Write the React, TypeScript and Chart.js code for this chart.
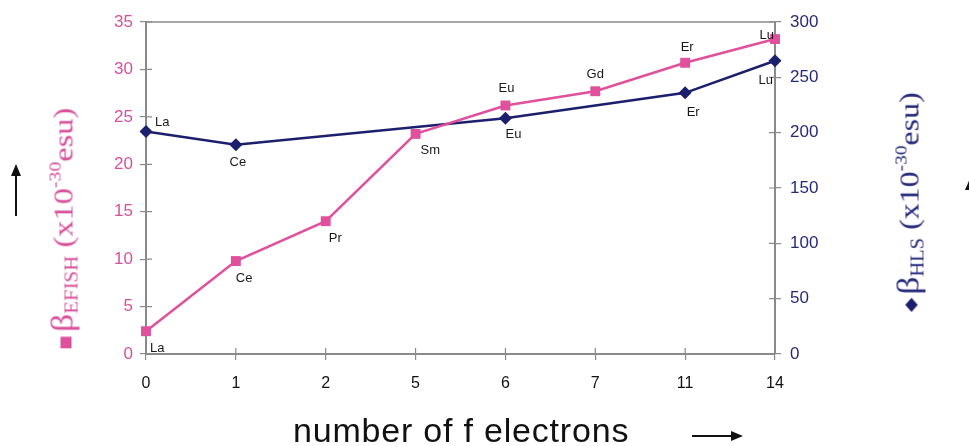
import React, { useEffect, useRef } from "react";
import { Chart, registerables } from "chart.js";

Chart.register(...registerables);

const categories = ["0", "1", "2", "5", "6", "7", "11", "14"];
const efishValues = [2.4, 9.8, 14.0, 23.2, 26.2, 27.7, 30.7, 33.2];
const hlsValues = [201, 189, null, null, 213, null, 236, 265];
const efishNames = ["La", "Ce", "Pr", "Sm", "Eu", "Gd", "Er", "Lu"];
const hlsNames = ["La", "Ce", null, null, "Eu", null, "Er", "Lu"];
const efishTicks = [0, 5, 10, 15, 20, 25, 30, 35];
const hlsTicks = [0, 50, 100, 150, 200, 250, 300];

const PINK = "#e0509c";
const PINK_TEXT = "#d8509a";
const NAVY = "#1c1f6e";
const NAVY_TEXT = "#26297a";
const AXIS = "#8a8a8a";

// label placement: [dx, dy, align]
const efishPlace: [number, number, CanvasTextAlign][] = [
  [4, 17, "left"],
  [0, 17, "left"],
  [3, 17, "left"],
  [5, 16, "left"],
  [1, -17, "center"],
  [0, -17, "center"],
  [2, -15, "center"],
  [-1, -4, "right"],
];
const hlsPlace: [number, number, CanvasTextAlign][] = [
  [9, -9, "left"],
  [2, 18, "center"],
  [0, 0, "left"],
  [0, 0, "left"],
  [8, 16, "center"],
  [0, 0, "left"],
  [8, 20, "center"],
  [-2, 20, "right"],
];

const labelPlugin = {
  id: "pointNames",
  afterDatasetsDraw(chart: any) {
    const ctx = chart.ctx as CanvasRenderingContext2D;
    ctx.save();
    ctx.font = "13px Arial, 'Liberation Sans', sans-serif";
    ctx.fillStyle = "#1a1a1a";
    ctx.textBaseline = "middle";
    const sets: [number, (string | null)[], [number, number, CanvasTextAlign][]][] = [
      [0, efishNames, efishPlace],
      [1, hlsNames, hlsPlace],
    ];
    for (const [di, names, place] of sets) {
      const meta = chart.getDatasetMeta(di);
      meta.data.forEach((pt: any, i: number) => {
        const n = names[i];
        if (!n || pt.skip) return;
        const [dx, dy, al] = place[i];
        ctx.textAlign = al;
        ctx.fillText(n, pt.x + dx, pt.y + dy);
      });
    }
    ctx.restore();
  },
  beforeDatasetsDraw(chart: any) {
    const ctx = chart.ctx as CanvasRenderingContext2D;
    const a = chart.chartArea;
    ctx.save();
    ctx.strokeStyle = AXIS;
    ctx.lineWidth = 1.5;
    ctx.beginPath();
    ctx.moveTo(a.left, a.top);
    ctx.lineTo(a.right, a.top);
    ctx.stroke();
    // inner halves of tick marks
    ctx.lineWidth = 1.2;
    const yl = chart.scales.y;
    const yr = chart.scales.y2;
    const x = chart.scales.x;
    ctx.beginPath();
    yl.ticks.forEach((t: any) => {
      const py = yl.getPixelForValue(t.value);
      ctx.moveTo(a.left, py);
      ctx.lineTo(a.left + 6, py);
    });
    yr.ticks.forEach((t: any) => {
      const py = yr.getPixelForValue(t.value);
      ctx.moveTo(a.right - 6, py);
      ctx.lineTo(a.right, py);
    });
    categories.forEach((_c, i) => {
      const px = x.getPixelForValue(i);
      ctx.moveTo(px, a.bottom - 6);
      ctx.lineTo(px, a.bottom);
    });
    ctx.stroke();
    ctx.restore();
  },
};

export default function App() {
  const ref = useRef<HTMLCanvasElement>(null);
  useEffect(() => {
    if (!ref.current) return;
    const chart = new Chart(ref.current, {
      type: "line",
      data: {
        labels: categories,
        datasets: [
          {
            label: "βEFISH",
            data: efishValues,
            yAxisID: "y",
            borderColor: PINK,
            backgroundColor: PINK,
            borderWidth: 2.5,
            pointStyle: "rect",
            pointRadius: 7,
            pointBorderWidth: 0,
            tension: 0,
          },
          {
            label: "βHLS",
            data: hlsValues,
            yAxisID: "y2",
            borderColor: NAVY,
            backgroundColor: NAVY,
            borderWidth: 2.5,
            pointStyle: "rectRot",
            pointRadius: 6.5,
            pointBorderWidth: 0,
            spanGaps: true,
            tension: 0,
          },
        ],
      },
      options: {
        responsive: false,
        animation: false,
        devicePixelRatio: 1,
        layout: { padding: { top: 22, left: 0, right: 0, bottom: 0 } },
        plugins: { legend: { display: false }, tooltip: { enabled: false } },
        scales: {
          x: {
            type: "category",
            offset: false,
            grid: { display: true, drawOnChartArea: false, tickLength: 6, color: AXIS, lineWidth: 1.2 },
            border: { color: AXIS, width: 2 },
            ticks: {
              color: "#111",
              font: { family: "Arial, 'Liberation Sans', sans-serif", size: 16 },
              padding: 14,
              maxRotation: 0,
            },
            afterFit: (s: any) => {
              s.height = 92;
            },
          },
          y: {
            position: "left",
            min: 0,
            max: 35,
            afterBuildTicks: (s: any) => {
              s.ticks = efishTicks.map((v) => ({ value: v }));
            },
            grid: { display: true, drawOnChartArea: false, tickLength: 6, color: AXIS, lineWidth: 1.2 },
            border: { color: AXIS, width: 2 },
            ticks: {
              color: PINK_TEXT,
              font: { family: "Arial, 'Liberation Sans', sans-serif", size: 17 },
              padding: 7,
            },
            afterFit: (s: any) => {
              s.width = 146;
            },
          },
          y2: {
            position: "right",
            min: 0,
            max: 300,
            afterBuildTicks: (s: any) => {
              s.ticks = hlsTicks.map((v) => ({ value: v }));
            },
            grid: { display: true, drawOnChartArea: false, tickLength: 6, color: AXIS, lineWidth: 1.2 },
            border: { color: AXIS, width: 2 },
            ticks: {
              color: NAVY_TEXT,
              font: { family: "Arial, 'Liberation Sans', sans-serif", size: 17 },
              padding: 9,
            },
            afterFit: (s: any) => {
              s.width = 194;
            },
          },
        },
      },
      plugins: [labelPlugin],
    });
    return () => chart.destroy();
  }, []);

  const serif = "'Liberation Serif', 'DejaVu Serif', serif";
  return (
    <div style={{ position: "fixed", left: 0, top: 0, width: 969, height: 446, background: "#fff", overflow: "hidden" }}>
      <canvas ref={ref} width={969} height={446} style={{ position: "absolute", left: 0, top: 0, width: 969, height: 446 }} />
      {/* left title */}
      <div
        style={{
          position: "absolute",
          left: 62,
          top: 228,
          transform: "translate(-50%, -50%) rotate(-90deg) scaleX(1.16)",
          whiteSpace: "nowrap",
          color: PINK_TEXT,
          fontFamily: serif,
          lineHeight: 1,
        }}
      >
        <span
          style={{
            display: "inline-block",
            width: 10,
            height: 11,
            background: PINK,
            marginRight: 4,
            verticalAlign: 1,
          }}
        />
        <span style={{ fontSize: 31 }}>β</span>
        <span style={{ fontSize: 18, position: "relative", top: 5 }}>EFISH</span>
        <span style={{ fontSize: 28 }}> (x10</span>
        <span style={{ fontSize: 17, position: "relative", top: -12 }}>-30</span>
        <span style={{ fontSize: 28 }}>esu)</span>
      </div>
      {/* right title */}
      <div
        style={{
          position: "absolute",
          left: 908,
          top: 202,
          transform: "translate(-50%, -50%) rotate(-90deg) scaleX(1.14)",
          whiteSpace: "nowrap",
          color: NAVY_TEXT,
          fontFamily: serif,
          lineHeight: 1,
        }}
      >
        <span
          style={{
            display: "inline-block",
            width: 8,
            height: 8,
            background: NAVY,
            marginRight: 5,
            marginLeft: 2,
            verticalAlign: 3,
            transform: "rotate(45deg) scale(1.1)",
          }}
        />
        <span style={{ fontSize: 31 }}>β</span>
        <span style={{ fontSize: 18, position: "relative", top: 5 }}>HLS</span>
        <span style={{ fontSize: 28 }}> (x10</span>
        <span style={{ fontSize: 17, position: "relative", top: -12 }}>-30</span>
        <span style={{ fontSize: 28 }}>esu)</span>
      </div>
      {/* x title */}
      <div
        style={{
          position: "absolute",
          left: 293,
          top: 413,
          whiteSpace: "nowrap",
          color: "#111",
          fontFamily: "Arial, 'Liberation Sans', sans-serif",
          fontSize: 34,
          letterSpacing: 0.8,
          lineHeight: 1,
        }}
      >
        number of f electrons
      </div>
      {/* arrows */}
      <svg style={{ position: "absolute", left: 0, top: 0 }} width={969} height={446}>
        <line x1={16} y1={216} x2={16} y2={172} stroke="#111" strokeWidth={2} />
        <polygon points="16,164 11,176 21,176" fill="#111" />
        <line x1={971} y1={216} x2={971} y2={188} stroke="#111" strokeWidth={2} />
        <polygon points="971,176 965,190 977,190" fill="#111" />
        <line x1={692} y1={436} x2={734} y2={436} stroke="#111" strokeWidth={2} />
        <polygon points="743,436 731,431 731,441" fill="#111" />
      </svg>
    </div>
  );
}
